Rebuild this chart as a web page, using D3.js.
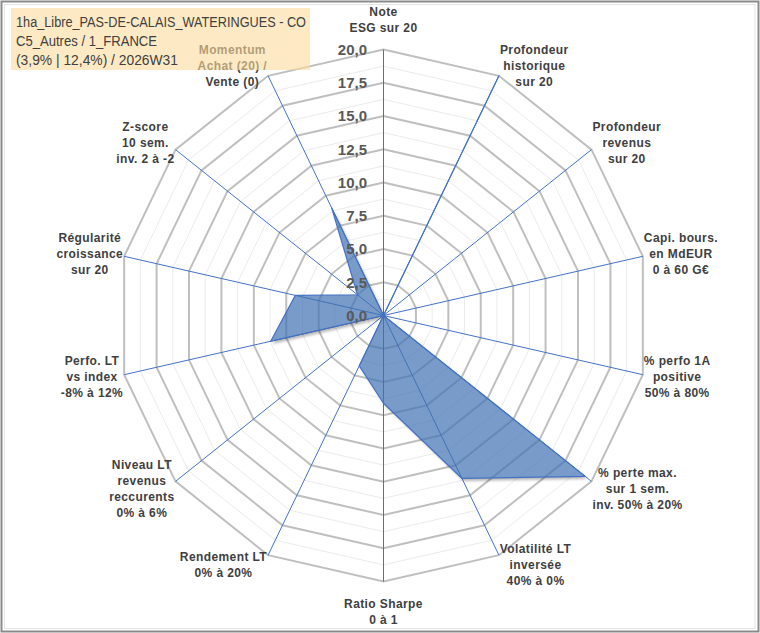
<!DOCTYPE html>
<html>
<head>
<meta charset="utf-8">
<script src="https://cdn.jsdelivr.net/npm/d3@7"></script>
<style>
  body { margin: 0; background: #fff; }
</style>
</head>
<body>
<div id="chart"></div>
<script>
// axes, clockwise from the top
const axisLabels = [
  ["Note", "ESG sur 20"],
  ["Profondeur", "historique", "sur 20"],
  ["Profondeur", "revenus", "sur 20"],
  ["Capi. bours.", "en MdEUR", "0 à 60 G€"],
  ["% perfo 1A", "positive", "50% à 80%"],
  ["% perte max.", "sur 1 sem.", "inv. 50% à 20%"],
  ["Volatilité LT", "inversée", "40% à 0%"],
  ["Ratio Sharpe", "0 à 1"],
  ["Rendement LT", "0% à 20%"],
  ["Niveau LT", "revenus", "reccurents", "0% à 6%"],
  ["Perfo. LT", "vs index", "-8% à 12%"],
  ["Régularité", "croissance", "sur 20"],
  ["Z-score", "10 sem.", "inv. 2 à -2"],
  ["Momentum", "Achat (20) /", "Vente (0)"]
];
const values = [0, 20, 0, 0, 0, 19.4, 13.6, 6.6, 4.2, 0, 8.7, 6.8, 2.5, 9.0];
const tickValues = [0, 2.5, 5, 7.5, 10, 12.5, 15, 17.5, 20];
const titleLines = [
  "1ha_Libre_PAS-DE-CALAIS_WATERINGUES - CO",
  "C5_Autres / 1_FRANCE",
  "(3,9% | 12,4%) / 2026W31"
];

const width = 760;
const height = 633;
const cx = 383.5, cy = 315.5, R = 266;
const n = axisLabels.length;
const step = 2 * Math.PI / n;

const svg = d3.select("#chart")
  .append("svg")
  .attr("width", width)
  .attr("height", height)
  .style("font-family", "'Liberation Sans', Arial, sans-serif");

const defs = svg.append("defs");
defs.append("filter").attr("id", "blur")
  .attr("x", "-10%").attr("y", "-10%").attr("width", "120%").attr("height", "120%")
  .append("feGaussianBlur").attr("stdDeviation", 1.6);

// frame
svg.append("rect")
  .attr("x", 1.5).attr("y", 1.5)
  .attr("width", width - 3).attr("height", height - 3)
  .attr("fill", "#fff").attr("stroke", "#8a8a8a").attr("stroke-width", 2);
svg.append("rect")
  .attr("x", 4.5).attr("y", 4.5)
  .attr("width", width - 9.5).attr("height", height - 9)
  .attr("fill", "none").attr("stroke", "#e3e3e3").attr("stroke-width", 1);

const r = d3.scaleLinear().domain([0, 20]).range([0, R]);

const g = svg.append("g").attr("transform", `translate(${cx},${cy})`);

const ring = d3.lineRadial()
  .angle((d, i) => i * step)
  .radius(d => r(d))
  .curve(d3.curveLinearClosed);

// grid rings: minor every 1.25, major every 2.5
const ringValues = d3.range(1, 17).map(k => k * 1.25);
g.selectAll(".minor")
  .data(ringValues.filter(v => v % 2.5 !== 0))
  .join("path")
  .attr("d", v => ring(d3.range(n).map(() => v)))
  .attr("fill", "none")
  .attr("stroke", "#ebebeb")
  .attr("stroke-width", 1);
g.selectAll(".major")
  .data(ringValues.filter(v => v % 2.5 === 0))
  .join("path")
  .attr("d", v => ring(d3.range(n).map(() => v)))
  .attr("fill", "none")
  .attr("stroke", "#bfbfbf")
  .attr("stroke-width", 2);

// spokes
const dir = i => [Math.sin(i * step), -Math.cos(i * step)];
g.selectAll(".spoke")
  .data(d3.range(n))
  .join("line")
  .attr("x1", 0).attr("y1", 0)
  .attr("x2", i => dir(i)[0] * r(20))
  .attr("y2", i => dir(i)[1] * r(20))
  .attr("stroke", "#4472c4")
  .attr("stroke-width", 1);

// series with a soft shadow outside the shape
const shape = ring(values);
const mask = defs.append("mask").attr("id", "outside");
mask.append("rect").attr("x", 0).attr("y", 0).attr("width", width).attr("height", height).attr("fill", "#fff");
mask.append("path").attr("d", shape).attr("transform", `translate(${cx},${cy})`).attr("fill", "#000");

svg.append("g").attr("mask", "url(#outside)")
  .append("path")
  .attr("d", shape)
  .attr("transform", `translate(${cx + 2},${cy + 2.5})`)
  .attr("fill", "#000")
  .attr("opacity", 0.3)
  .attr("filter", "url(#blur)");

svg.append("path")
  .attr("d", shape)
  .attr("transform", `translate(${cx},${cy})`)
  .attr("fill", "rgb(64,113,178)")
  .attr("fill-opacity", 0.7)
  .attr("stroke", "#4472c4")
  .attr("stroke-width", 1.2)
  .attr("stroke-linejoin", "round");

// radial tick labels along the top axis
const fmt = d3.formatLocale({ decimal: ",", thousands: " ", grouping: [3], currency: ["", "€"] }).format(".1f");
svg.selectAll(".tick")
  .data(tickValues)
  .join("text")
  .attr("x", cx - 16.5)
  .attr("y", v => cy - r(v))
  .attr("dy", "0.36em")
  .attr("text-anchor", "end")
  .attr("font-size", 15)
  .attr("font-weight", "bold")
  .attr("fill", "#595959")
  .text(fmt);

// category labels outside each vertex
const lh = 16;
axisLabels.forEach((lines, i) => {
  const [dx, dy] = dir(i);
  const vx = cx + dx * r(20), vy = cy + dy * r(20);
  const t = svg.append("text")
    .attr("text-anchor", "middle")
    .attr("font-size", 12)
    .attr("font-weight", "bold")
    .attr("letter-spacing", 0.4)
    .attr("fill", "#404040");
  const spans = t.selectAll("tspan").data(lines).join("tspan").text(d => d);
  const w = d3.max(spans.nodes(), s => s.getComputedTextLength());
  const h = lines.length * lh;
  let tx, ty;
  if (Math.abs(dx) < 0.01) {
    tx = vx;
    ty = vy + Math.sign(dy) * (h / 2 + 14);
  } else {
    tx = vx + Math.sign(dx) * (w / 2 + 1);
    ty = vy + dy * 11;
  }
  spans.attr("x", tx)
    .attr("y", (d, k) => ty - h / 2 + lh * (k + 0.5))
    .attr("dy", "0.36em");
});

// title box (semi-transparent, over the chart)
svg.append("rect")
  .attr("x", 11).attr("y", 8)
  .attr("width", 299).attr("height", 62)
  .attr("fill", "#fbdc9c")
  .attr("opacity", 0.6);

const titleWidths = [290, 141, 162];
svg.selectAll(".title")
  .data(titleLines)
  .join("text")
  .attr("x", 16)
  .attr("y", (d, k) => 27 + k * 19)
  .attr("font-size", 15.5)
  .attr("fill", "#404040")
  .attr("textLength", (d, k) => titleWidths[k])
  .attr("lengthAdjust", "spacingAndGlyphs")
  .text(d => d);
</script>
</body>
</html>
